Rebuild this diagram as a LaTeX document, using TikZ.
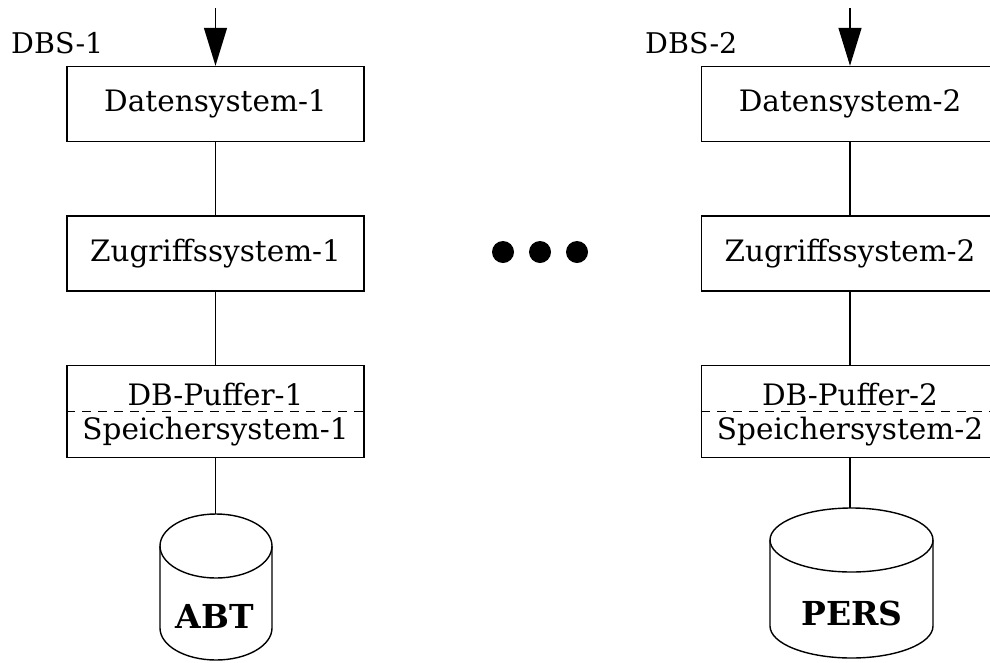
\documentclass[tikz,border=0pt]{standalone}
\usepackage{fontspec}
\setmainfont{DejaVu Serif}
\usetikzlibrary{arrows.meta}
\begin{document}
\begin{tikzpicture}[x=1pt,y=-1pt,
  box/.style={draw, line width=1.4pt, minimum width=297pt, minimum height=75pt, inner sep=0pt, font=\fontsize{29.5}{34}\selectfont},
  pbox/.style={draw, line width=1.4pt, minimum width=297pt, minimum height=92pt, inner sep=0pt},
  btxt/.style={anchor=base, inner sep=0pt, font=\fontsize{29.5}{34}\selectfont},
  lbl/.style={anchor=base west, inner sep=0pt, font=\fontsize{28.5}{34}\selectfont},
  dbtxt/.style={anchor=base, inner sep=0pt, font=\bfseries\fontsize{33}{36}\selectfont},
  conn/.style={line width=1.4pt},
  cyl/.style={line width=1.4pt},
  inarrow/.style={line width=1.4pt, -{Triangle[length=38pt,width=23pt]}},
  dot/.style={circle, fill=black, draw=none, minimum size=22pt, inner sep=0pt}]
\path[use as bounding box] (0,0) rectangle (990,662);
\clip (0,0) rectangle (990,662);

% ---------- left column ----------
\node[lbl] (dbs1) at (11,53) {DBS-1};
\node[box] (ds1) at (215.5,104) {Datensystem-1};
\node[box] (zs1) at (215.5,253.5) {Zugriffssystem-1};
\node[pbox] (pb1) at (215.5,411.5) {};
\node[btxt] (pt1) at (215.5,405) {DB-Puffer-1};
\node[btxt] (st1) at (215.5,439) {Speichersystem-1};
\draw[line width=0.9pt, dash pattern=on 9pt off 7pt] (pb1.west) -- (pb1.east);
\coordinate (in1) at (215.5,8);
\draw[inarrow] (in1) -- (ds1.north);
\draw[conn] (ds1) -- (zs1);
\draw[conn] (zs1) -- (pb1);
\coordinate (abttop) at (215.5,514);
\draw[conn] (pb1.south) -- (abttop);
\draw[cyl] (216,546) ellipse [x radius=56, y radius=32];
\draw[cyl] (160,546) -- (160,628) arc[start angle=180, end angle=0, x radius=56, y radius=32] -- (272,546);
\node[dbtxt] (abt) at (215,628) {ABT};

% ---------- dots ----------
\node[dot] (dot1) at (503,252) {};
\node[dot] (dot2) at (540,252) {};
\node[dot] (dot3) at (577,252) {};

% ---------- right column ----------
\node[lbl] (dbs2) at (645,53) {DBS-2};
\node[box] (ds2) at (850,104) {Datensystem-2};
\node[box] (zs2) at (850,253.5) {Zugriffssystem-2};
\node[pbox] (pb2) at (850,411.5) {};
\node[btxt] (pt2) at (850,405) {DB-Puffer-2};
\node[btxt] (st2) at (850,439) {Speichersystem-2};
\draw[line width=0.9pt, dash pattern=on 9pt off 7pt] (pb2.west) -- (pb2.east);
\coordinate (in2) at (850,8);
\draw[inarrow] (in2) -- (ds2.north);
\draw[conn] (ds2) -- (zs2);
\draw[conn] (zs2) -- (pb2);
\coordinate (perstop) at (850,508);
\draw[conn] (pb2.south) -- (perstop);
\draw[cyl] (851.5,540) ellipse [x radius=81.5, y radius=32];
\draw[cyl] (770,540) -- (770,626) arc[start angle=180, end angle=0, x radius=81.5, y radius=32] -- (933,540);
\node[dbtxt] (pers) at (852,625) {PERS};
\end{tikzpicture}
\end{document}
